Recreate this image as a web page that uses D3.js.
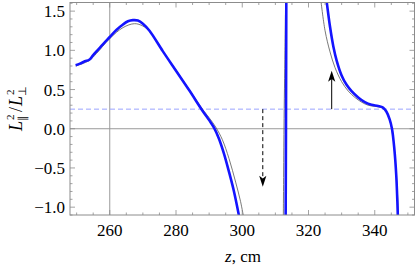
<!DOCTYPE html>
<html>
<head>
<meta charset="utf-8">
<script src="https://cdn.jsdelivr.net/npm/d3@7/dist/d3.min.js"></script>
<style>
  html, body { margin: 0; padding: 0; background: #fff; }
</style>
</head>
<body>
<div id="chart"></div>
<script>
// ---- data ----
// thick blue curve, left branch
const blueZ1 = [249.7, 251, 252.5, 253.8, 255, 256.5, 258, 260, 262, 264, 265.5, 267, 268.5, 270, 272, 276, 280, 284, 288, 290, 291.5, 293, 294.5, 296, 297.5, 299.2];
const blueV1 = [0.81, 0.83, 0.86, 0.88, 0.94, 1.01, 1.08, 1.17, 1.26, 1.33, 1.37, 1.385, 1.38, 1.34, 1.25, 0.99, 0.74, 0.49, 0.23, 0.11, 0.01, -0.13, -0.32, -0.55, -0.8, -1.15];
// thick blue curve, the pole near z = 313
const blueZ2 = [313.1, 313.2, 313.3];
const blueV2 = [-1.15, 0.0, 1.65];
// thick blue curve, right branch
const blueZ3 = [325.4, 326.5, 327.5, 328.5, 330, 331.5, 333, 335, 337, 339, 341, 342.5, 343.5, 344.5, 345.2, 345.9, 346.5, 347];
const blueV3 = [1.65, 1.30, 1.05, 0.87, 0.68, 0.56, 0.48, 0.40, 0.34, 0.305, 0.29, 0.27, 0.22, 0.12, 0.0, -0.25, -0.6, -1.15];

// thin gray curve
const thinZ1 = [249.7, 253.8, 256, 260, 264, 267.5, 270, 272, 276, 280, 284, 288, 290, 292, 294, 296, 298, 299.5, 300.5];
const thinV1 = [0.80, 0.87, 0.96, 1.15, 1.29, 1.34, 1.31, 1.24, 0.99, 0.75, 0.50, 0.25, 0.14, 0.02, -0.14, -0.38, -0.68, -0.93, -1.15];
const thinZ2 = [312.4, 312.6, 312.9, 313.1];
const thinV2 = [-1.15, 0.0, 1.0, 1.65];
const thinZ3 = [323.7, 325, 326.5, 328, 330, 332, 334, 336, 338, 340, 342, 343.5, 344.5, 345.2, 346, 346.7, 347.2];
const thinV3 = [1.65, 1.25, 0.98, 0.78, 0.60, 0.48, 0.40, 0.34, 0.30, 0.285, 0.27, 0.22, 0.11, -0.02, -0.3, -0.7, -1.15];

const levelValue = 0.25;               // dashed horizontal level
const arrowUp = { z: 327, from: 0.25, to: 0.74 };
const arrowDown = { z: 306.2, from: 0.25, to: -0.74 };
const vGridZ = 260;

const xTicks = [260, 280, 300, 320, 340];
const yTicks = [-1.0, -0.5, 0.0, 0.5, 1.0, 1.5];

// ---- layout ----
const W = 415, H = 268;
const M = { left: 70, right: 0.5, top: 2.5, bottom: 53 };
const serif = '"Liberation Serif", "Times New Roman", Times, serif';

const x = d3.scaleLinear().domain([248, 352]).range([M.left, W - M.right]);
const y = d3.scaleLinear().domain([-1.1, 1.61]).range([H - M.bottom, M.top]);

const svg = d3.select('#chart').append('svg')
    .attr('width', W).attr('height', H)
    .attr('font-family', serif);

svg.append('defs').append('clipPath').attr('id', 'plot-clip')
  .append('rect')
    .attr('x', x.range()[0]).attr('y', y.range()[1])
    .attr('width', x.range()[1] - x.range()[0])
    .attr('height', y.range()[0] - y.range()[1]);

// grid lines
svg.append('line')
    .attr('x1', x(vGridZ)).attr('x2', x(vGridZ))
    .attr('y1', y.range()[0]).attr('y2', y.range()[1])
    .attr('stroke', '#9a9a9a').attr('stroke-width', 1);
svg.append('line')
    .attr('x1', x.range()[0]).attr('x2', x.range()[1])
    .attr('y1', y(0)).attr('y2', y(0))
    .attr('stroke', '#9a9a9a').attr('stroke-width', 1);

// dashed level line
svg.append('line')
    .attr('x1', x.range()[0]).attr('x2', x.range()[1])
    .attr('y1', y(levelValue)).attr('y2', y(levelValue))
    .attr('stroke', '#9aa4ff').attr('stroke-width', 1)
    .attr('stroke-dasharray', '5,3');

// curves
const line = d3.line()
    .x(d => x(d[0])).y(d => y(d[1]))
    .curve(d3.curveCatmullRom.alpha(0.5));
const zip = (zs, vs) => zs.map((z, i) => [z, vs[i]]);

const gCurves = svg.append('g').attr('clip-path', 'url(#plot-clip)');
[[thinZ1, thinV1], [thinZ2, thinV2], [thinZ3, thinV3]].forEach(([zs, vs]) => {
  gCurves.append('path').datum(zip(zs, vs))
      .attr('d', line).attr('fill', 'none')
      .attr('stroke', '#6a6a6a').attr('stroke-width', 0.9);
});
[[blueZ1, blueV1], [blueZ2, blueV2], [blueZ3, blueV3]].forEach(([zs, vs]) => {
  gCurves.append('path').datum(zip(zs, vs))
      .attr('d', line).attr('fill', 'none')
      .attr('stroke', '#1414ff').attr('stroke-width', 2.6)
      .attr('stroke-linejoin', 'round');
});

// arrows
function drawArrow(a, dashed) {
  const x0 = x(a.z), y0 = y(a.from), y1 = y(a.to);
  const dir = y1 < y0 ? 1 : -1;   // 1 = head points up
  const headLen = 11;
  svg.append('line')
      .attr('x1', x0).attr('x2', x0)
      .attr('y1', y0).attr('y2', y1 + dir * headLen * 0.7)
      .attr('stroke', '#000').attr('stroke-width', 1)
      .attr('stroke-dasharray', dashed ? '4,3' : null);
  const p = d3.path();
  p.moveTo(x0, y1);
  p.lineTo(x0 - 3.6, y1 + dir * headLen);
  p.lineTo(x0, y1 + dir * headLen * 0.75);
  p.lineTo(x0 + 3.6, y1 + dir * headLen);
  p.closePath();
  svg.append('path').attr('d', p.toString()).attr('fill', '#000');
}
drawArrow(arrowUp, false);
drawArrow(arrowDown, true);

// frame
const frameColor = '#8c8c8c';
svg.append('rect')
    .attr('x', x.range()[0]).attr('y', y.range()[1])
    .attr('width', x.range()[1] - x.range()[0])
    .attr('height', y.range()[0] - y.range()[1])
    .attr('fill', 'none').attr('stroke', frameColor).attr('stroke-width', 1);

// ticks on all four sides
const gTicks = svg.append('g').attr('stroke', frameColor).attr('stroke-width', 0.8);
const xMinor = d3.range(250, 352, 5);
const yMinor = d3.range(-11, 17).map(d => d / 10);
const isMajorX = v => xTicks.includes(v);
const isMajorY = v => yTicks.some(t => Math.abs(t - v) < 1e-9);
xMinor.forEach(v => {
  const len = isMajorX(v) ? 5 : 2.5;
  gTicks.append('line').attr('x1', x(v)).attr('x2', x(v))
      .attr('y1', y.range()[0]).attr('y2', y.range()[0] - len);
  gTicks.append('line').attr('x1', x(v)).attr('x2', x(v))
      .attr('y1', y.range()[1]).attr('y2', y.range()[1] + len);
});
yMinor.forEach(v => {
  const len = isMajorY(v) ? 5 : 2.5;
  gTicks.append('line').attr('y1', y(v)).attr('y2', y(v))
      .attr('x1', x.range()[0]).attr('x2', x.range()[0] + len);
  gTicks.append('line').attr('y1', y(v)).attr('y2', y(v))
      .attr('x1', x.range()[1]).attr('x2', x.range()[1] - len);
});

// tick labels
const fmtY = v => (v < 0 ? '\u2212' : '') + Math.abs(v).toFixed(1);
svg.append('g').selectAll('text').data(xTicks).join('text')
    .attr('x', d => x(d)).attr('y', y.range()[0] + 21)
    .attr('text-anchor', 'middle').attr('font-size', 17)
    .text(d => d);
svg.append('g').selectAll('text').data(yTicks).join('text')
    .attr('x', x.range()[0] - 5).attr('y', d => y(d) + 6)
    .attr('text-anchor', 'end').attr('font-size', 17)
    .text(fmtY);

// axis label
const xl = svg.append('text')
    .attr('x', 243).attr('y', 262)
    .attr('text-anchor', 'middle').attr('font-size', 17);
xl.append('tspan').attr('font-style', 'italic').text('z');
xl.append('tspan').text(', cm');

// y label: L_parallel^2 / L_perp^2, rotated
const yl = svg.append('g').attr('transform', 'translate(22,131) rotate(-90)');
const big = 18, small = 11;
function lPart(x0, sub) {
  yl.append('text').attr('x', x0).attr('y', 0)
      .attr('font-size', big).attr('font-style', 'italic').text('L');
  yl.append('text').attr('x', x0 + 11).attr('y', -8)
      .attr('font-size', small).text('2');
  yl.append('text').attr('x', x0 + 10.5).attr('y', 4)
      .attr('font-size', small).text(sub);
}
lPart(0, '\u2225');
yl.append('text').attr('x', 19).attr('y', 0).attr('font-size', big).text('/');
lPart(25, '\u22A5');
</script>
</body>
</html>
